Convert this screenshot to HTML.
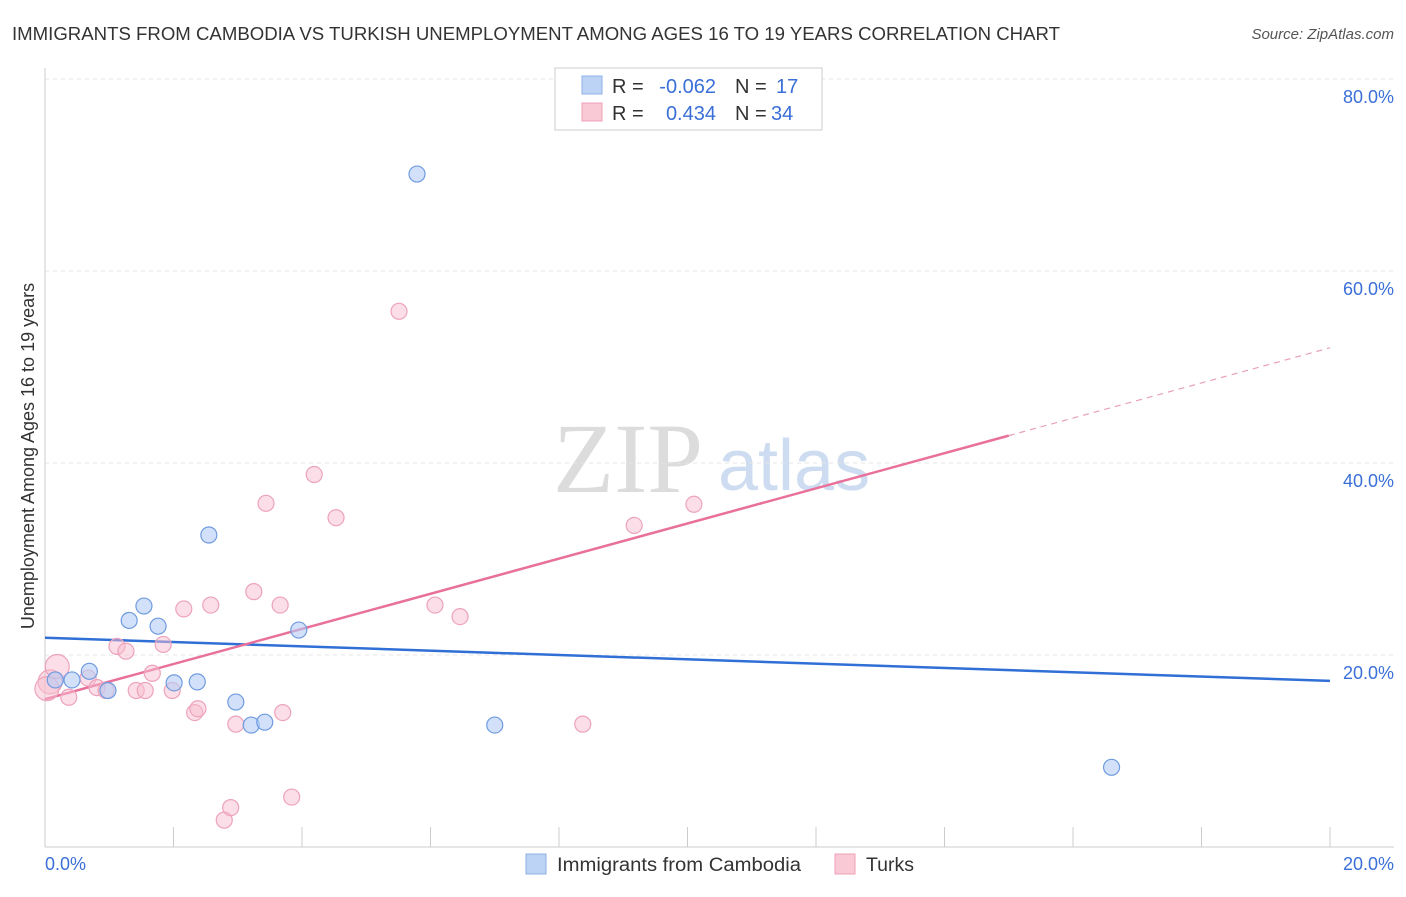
<!DOCTYPE html>
<html><head><meta charset="utf-8"><style>
body{margin:0;background:#fff;font-family:"Liberation Sans",sans-serif;}
</style></head><body>
<svg width="1406" height="892" xmlns="http://www.w3.org/2000/svg" style="font-family:'Liberation Sans',sans-serif">
<text x="12" y="40" font-size="18" fill="#333" textLength="1048" lengthAdjust="spacingAndGlyphs">IMMIGRANTS FROM CAMBODIA VS TURKISH UNEMPLOYMENT AMONG AGES 16 TO 19 YEARS CORRELATION CHART</text>
<text x="1394" y="39" font-size="15" fill="#555" font-style="italic" text-anchor="end">Source: ZipAtlas.com</text>
<text x="553" y="492" font-size="100" fill="#dcdcdc" font-family="Liberation Serif">ZIP</text>
<text x="718" y="490" font-size="72" fill="#cddcf0">atlas</text>
<g id="grid"></g>
<line x1="45" y1="68" x2="45" y2="847" stroke="#ccc"/>
<line x1="45" y1="847" x2="1394" y2="847" stroke="#ccc"/>
<g id="ticks"></g>
<text transform="translate(34,456) rotate(-90)" font-size="18" fill="#333" text-anchor="middle">Unemployment Among Ages 16 to 19 years</text>
<text x="45" y="870" font-size="18" fill="#3a6fd8">0.0%</text>
<text x="1394" y="870" font-size="18" fill="#3a6fd8" text-anchor="end">20.0%</text>
<g id="lines"></g>
<g id="points"></g>
<g font-size="20">
<rect x="555" y="68" width="267" height="62" fill="#fff" stroke="#ccc"/>
<rect x="582" y="76" width="20" height="18" fill="#bcd3f5" stroke="#8fb2e8"/>
<rect x="582" y="103" width="20" height="18" fill="#f9c9d6" stroke="#f0a0b8"/>
<text x="612" y="93" fill="#333">R =</text>
<text x="716" y="93" fill="#3a6fd8" text-anchor="end">-0.062</text>
<text x="735" y="93" fill="#333">N =</text>
<text x="776" y="93" fill="#3a6fd8">17</text>
<text x="612" y="120" fill="#333">R =</text>
<text x="716" y="120" fill="#3a6fd8" text-anchor="end">0.434</text>
<text x="735" y="120" fill="#333">N =</text>
<text x="771" y="120" fill="#3a6fd8">34</text>
</g>
<g>
<rect x="526" y="854" width="20" height="20" fill="#bcd3f5" stroke="#8fb2e8"/>
<text x="557" y="871" font-size="19" fill="#333" textLength="244" lengthAdjust="spacingAndGlyphs">Immigrants from Cambodia</text>
<rect x="835" y="854" width="20" height="20" fill="#f9c9d6" stroke="#f0a0b8"/>
<text x="866" y="871" font-size="19" fill="#333" textLength="48" lengthAdjust="spacingAndGlyphs">Turks</text>
</g>
</svg>
<script>
const yTicks=[20,40,60,80];
const xTicks=[0,2,4,6,8,10,12,14,16,18,20];
const blueX=[0.16,0.42,0.69,0.98,1.31,1.54,1.76,2.01,2.37,2.55,2.97,3.21,3.42,3.95,5.79,7.0,16.6];
const blueY=[17.4,17.4,18.3,16.3,23.6,25.1,23.0,17.1,17.2,32.5,15.1,12.7,13.0,22.6,70.1,12.7,8.3];
const pinkX=[0.08,0.19,0.37,0.67,0.81,0.95,1.12,1.26,1.42,1.56,1.67,1.84,1.98,2.16,2.33,2.38,2.58,2.79,2.89,2.97,3.25,3.44,3.66,3.70,3.84,4.19,4.53,5.51,6.07,6.46,8.37,9.17,10.1,0.03];
const pinkY=[17.2,18.8,15.6,17.6,16.6,16.3,20.9,20.4,16.3,16.3,18.1,21.1,16.3,24.8,14.0,14.4,25.2,2.8,4.1,12.8,26.6,35.8,25.2,14.0,5.2,38.8,34.3,55.8,25.2,24.0,12.8,33.5,35.7,16.5];
const blueFit=[21.8,17.3];
const pinkFit=[15.4,52.0];
const ns="http://www.w3.org/2000/svg";
const X=v=>45+v*64.25, Y=v=>847-v*9.6;
function mk(t,a,p){const e=document.createElementNS(ns,t);for(const k in a)e.setAttribute(k,a[k]);p.appendChild(e);return e;}
const grid=document.getElementById('grid'),ticks=document.getElementById('ticks'),lines=document.getElementById('lines'),pts=document.getElementById('points');
yTicks.forEach(v=>{
 const l=mk('line',{x1:45,x2:1394,y1:Y(v),y2:Y(v),stroke:'#e4e4e4','stroke-dasharray':'4,4'},grid);
 
 
 const t=mk('text',{x:1394,y:Y(v)+24,'font-size':18,fill:'#3a6fd8','text-anchor':'end'},ticks);
 t.textContent=v.toFixed(1)+'%';
 
 
});
xTicks.forEach(v=>{
 const l=mk('line',{x1:X(v),x2:X(v),y1:827,y2:847,stroke:'#ccc'},ticks);
 
 
});
let b=mk('line',{x1:X(0),y1:Y(blueFit[0]),x2:X(20),y2:Y(blueFit[1]),stroke:'#2f6fd6','stroke-width':2.5},lines);


const pm=v=>pinkFit[0]+(pinkFit[1]-pinkFit[0])*v/20;
let p=mk('line',{x1:X(0),y1:Y(pm(0)),x2:X(15),y2:Y(pm(15)),stroke:'#e8709a','stroke-width':2.5},lines);


let pd=mk('line',{x1:X(15),y1:Y(pm(15)),x2:X(20),y2:Y(pm(20)),stroke:'#e8a0b8','stroke-width':1.2,'stroke-dasharray':'6,5'},lines);


pinkX.forEach((v,i)=>{
 const c=mk('circle',{cx:X(v),cy:Y(pinkY[i]),r:(i<2||i==33)?12:8,fill:'rgba(248,190,208,0.5)',stroke:'#eda3bb','stroke-width':1.2},pts);
 
 
});
blueX.forEach((v,i)=>{
 const c=mk('circle',{cx:X(v),cy:Y(blueY[i]),r:8,fill:'rgba(180,205,245,0.6)',stroke:'#6f9be0','stroke-width':1.2},pts);
 
 
});
</script>
</body></html>
